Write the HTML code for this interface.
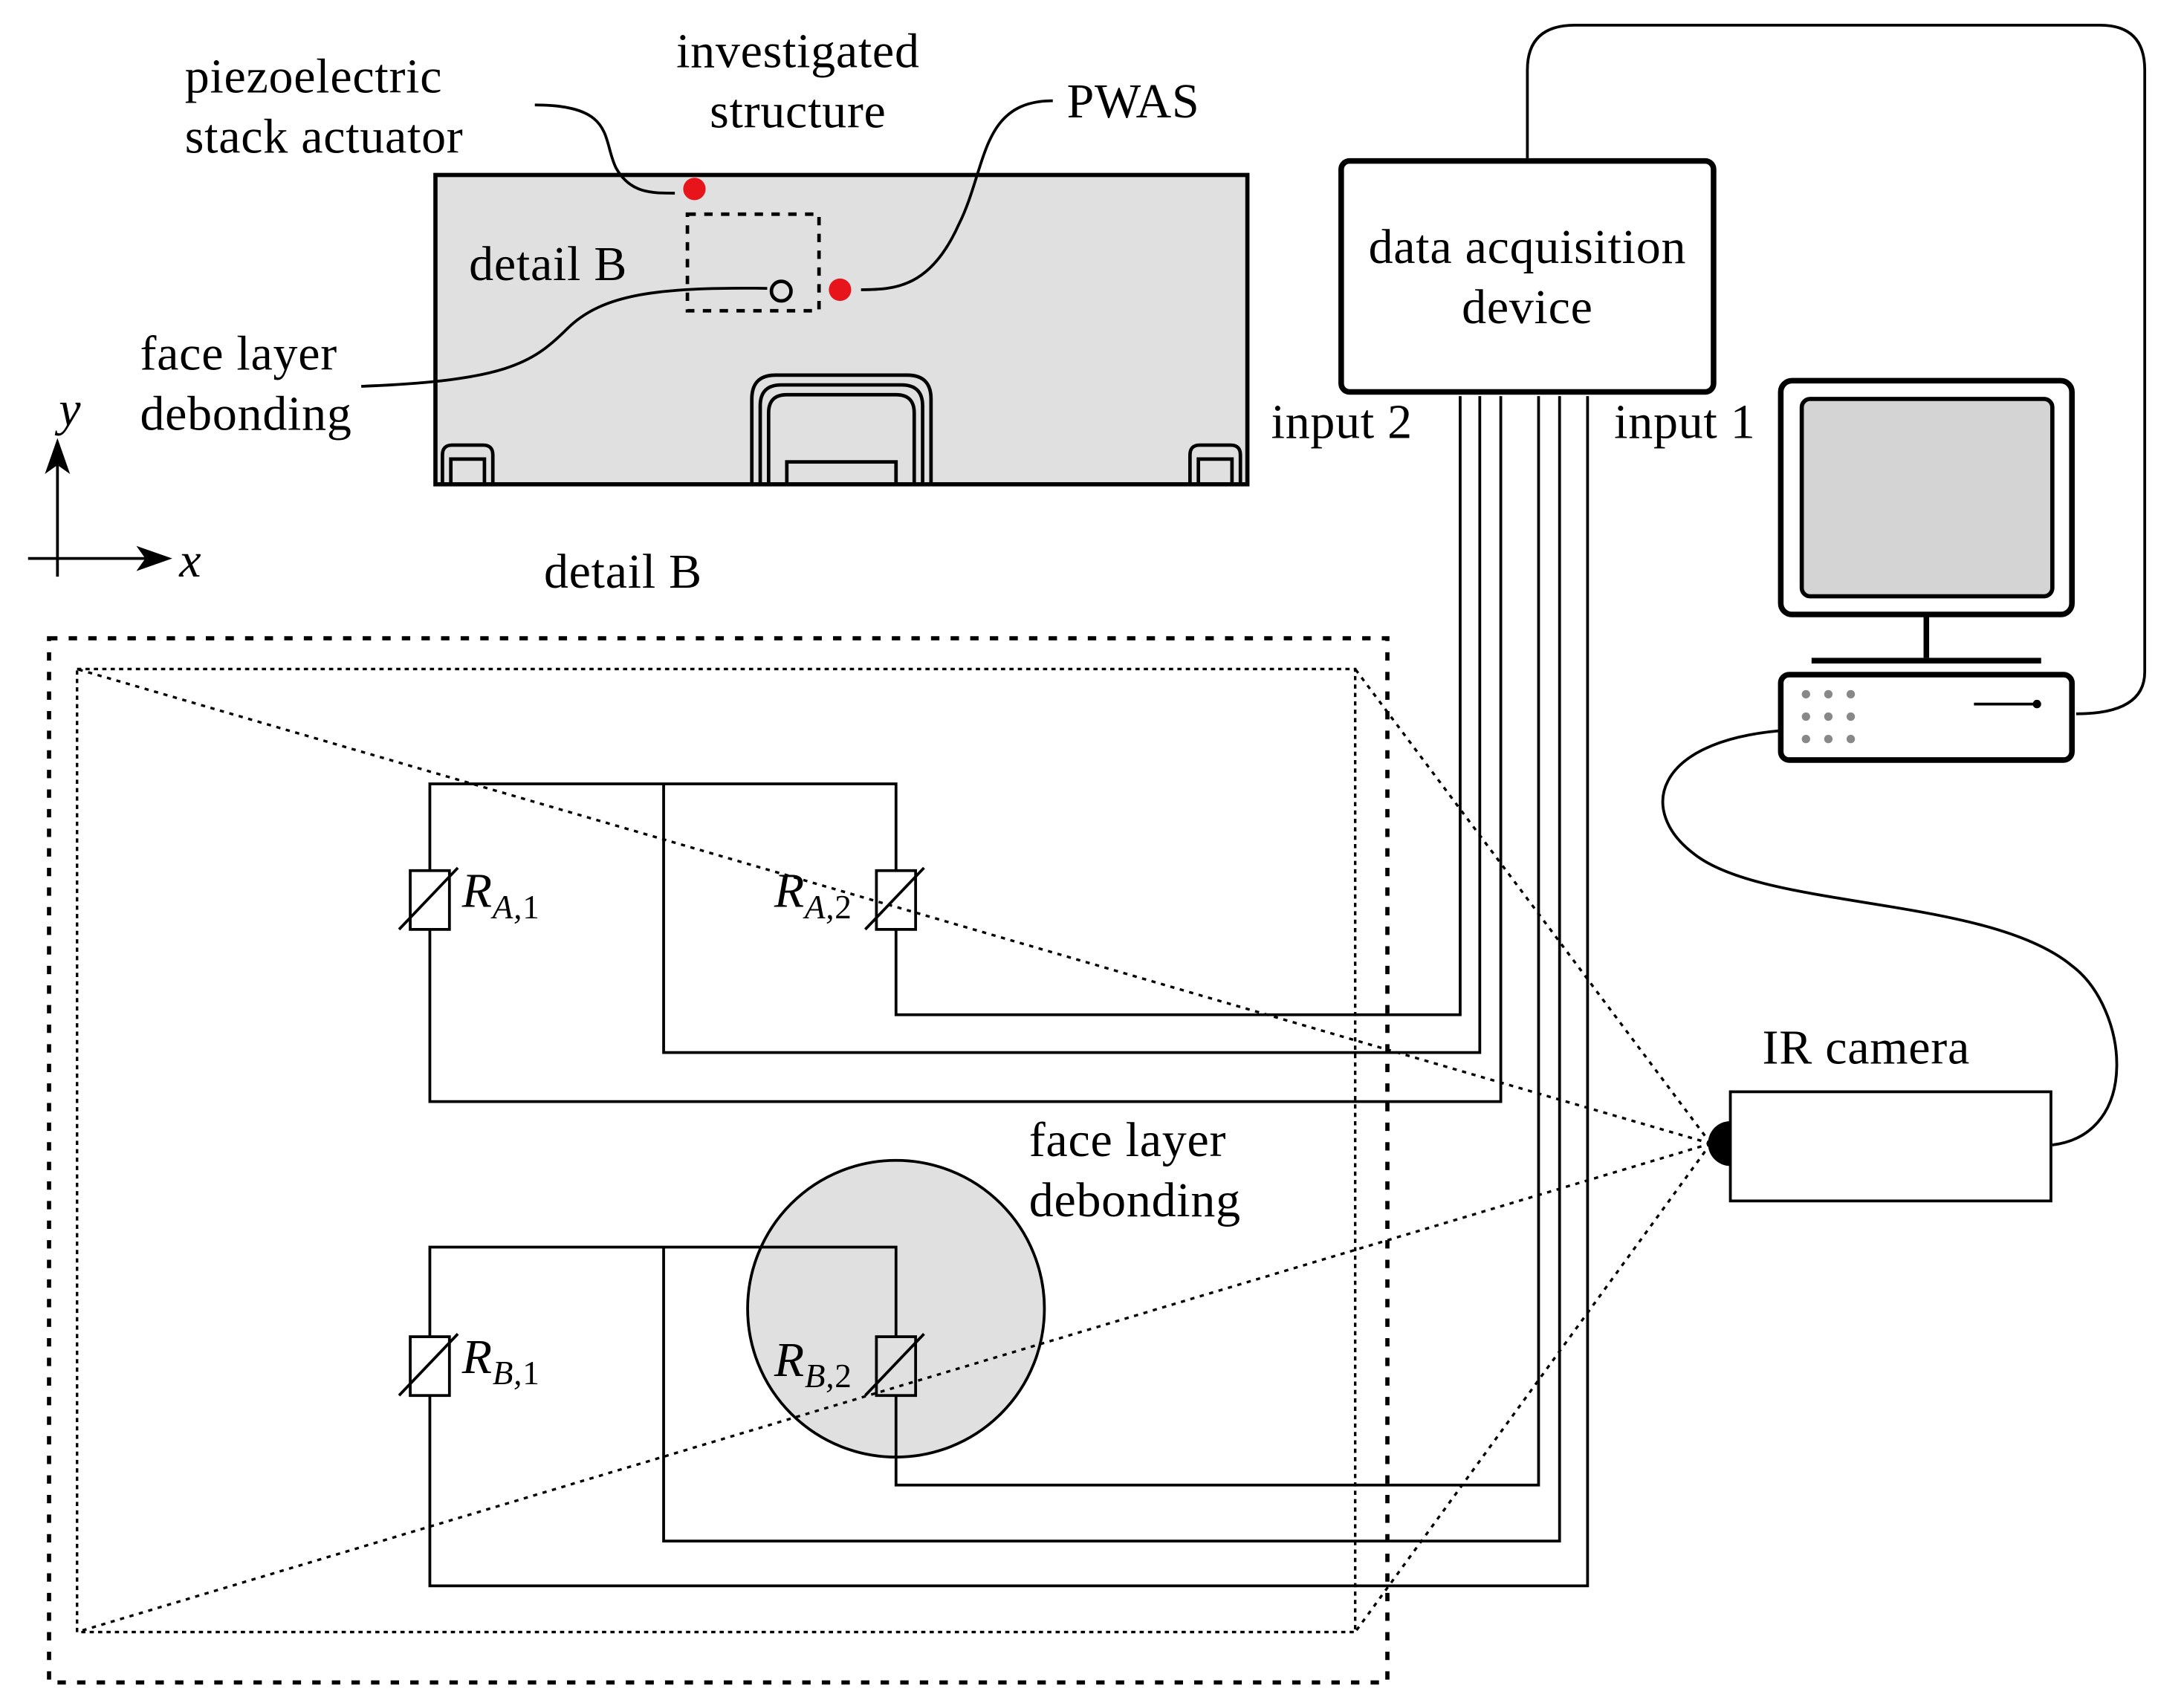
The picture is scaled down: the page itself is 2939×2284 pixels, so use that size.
<!DOCTYPE html>
<html><head><meta charset="utf-8"><style>html,body{margin:0;padding:0;background:#fff}svg{display:block}</style></head><body>
<svg width="2939" height="2284" viewBox="0 0 1560 1212.4" xmlns="http://www.w3.org/2000/svg" font-family="Liberation Serif, serif" font-size="35" letter-spacing="0.4">
<rect width="1560" height="1213" fill="#fff"/>
<rect x="311" y="125" width="580" height="221" fill="#e0e0e0" stroke="#000" stroke-width="3"/>
<rect x="491" y="153" width="94" height="69" fill="none" stroke="#000" stroke-width="2.5" stroke-dasharray="6,6"/>
<circle cx="496" cy="135" r="8" fill="#e8141c"/>
<circle cx="600" cy="207" r="8" fill="#e8141c"/>
<circle cx="558" cy="208" r="7" fill="none" stroke="#000" stroke-width="2.5"/>
<g fill="none" stroke="#000" stroke-width="2.5">
<path d="M537,346 V285 Q537,268 554,268 H648 Q665,268 665,285 V346"/>
<path d="M543,346 V290 Q543,275 558,275 H644 Q659,275 659,290 V346"/>
<path d="M549,346 V295 Q549,282 562,282 H640 Q653,282 653,295 V346"/>
<rect x="562" y="330" width="78" height="16"/>
<path d="M316,346 V325 Q316,318 323,318 H345 Q352,318 352,325 V346 M322,346 V328 H346 V346"/>
<path d="M850,346 V325 Q850,318 857,318 H879 Q886,318 886,325 V346 M856,346 V328 H880 V346"/>
<path d="M382,75 C440,75 430,100 440,120 C450,138 465,138 482,138" stroke-width="2"/>
<path d="M752,72 C700,72 705,120 685,160 C665,205 640,207 615,207" stroke-width="2"/>
<path d="M258,276 C360,272 380,260 405,235 C430,210 470,205 548,206" stroke-width="2"/>
</g>
<text x="132" y="66">piezoelectric</text>
<text x="132" y="109">stack actuator</text>
<text x="570" y="48" text-anchor="middle">investigated</text>
<text x="570" y="91" text-anchor="middle">structure</text>
<text x="762" y="84">PWAS</text>
<text x="335" y="200">detail B</text>
<text x="100" y="264">face layer</text>
<text x="100" y="307">debonding</text>
<g stroke="#000" stroke-width="2" fill="#000">
<line x1="41" y1="412" x2="41" y2="330"/><path d="M41,316 L34,336 L41,331 L48,336Z"/>
<line x1="20" y1="399" x2="106" y2="399"/><path d="M120,399 L100,392 L105,399 L100,406Z"/>
</g>
<text x="42" y="304" font-style="italic">y</text>
<text x="128" y="412" font-style="italic">x</text>
<text x="445" y="420" text-anchor="middle">detail B</text>
<circle cx="640" cy="935" r="106" fill="#e0e0e0" stroke="#000" stroke-width="2"/>
<rect x="35" y="456" width="956" height="746" fill="none" stroke="#000" stroke-width="3" stroke-dasharray="6,8"/>
<rect x="55" y="478" width="913" height="688" fill="none" stroke="#000" stroke-width="1.8" stroke-dasharray="3,3"/>
<g stroke="#000" stroke-width="1.8" stroke-dasharray="3,4">
<line x1="1222" y1="817" x2="55" y2="478"/>
<line x1="1222" y1="817" x2="968" y2="478"/>
<line x1="1222" y1="817" x2="55" y2="1166"/>
<line x1="1222" y1="817" x2="968" y2="1166"/>
</g>
<g fill="none" stroke="#000" stroke-width="2">
<path d="M307,622 V560 H640 V622 M474,560 V752 H1057 V283 M307,664 V787 H1072 V283 M640,664 V725 H1043 V283"/>
<rect x="293" y="622" width="28" height="42"/><line x1="285" y1="664" x2="327" y2="620"/>
<rect x="626" y="622" width="28" height="42"/><line x1="618" y1="664" x2="660" y2="620"/>
<path d="M307,955 V891 H640 V955 M474,891 V1101 H1114 V283 M307,997 V1133 H1134 V283 M640,997 V1061 H1099 V283"/>
<rect x="293" y="955" width="28" height="42"/><line x1="285" y1="997" x2="327" y2="953"/>
<rect x="626" y="955" width="28" height="42"/><line x1="618" y1="997" x2="660" y2="953"/>
</g>
<text x="330" y="648" font-style="italic">R<tspan font-size="24" dy="8">A,<tspan font-style="normal">1</tspan></tspan></text>
<text x="553" y="648" font-style="italic">R<tspan font-size="24" dy="8">A,<tspan font-style="normal">2</tspan></tspan></text>
<text x="330" y="981" font-style="italic">R<tspan font-size="24" dy="8">B,<tspan font-style="normal">1</tspan></tspan></text>
<text x="553" y="983" font-style="italic">R<tspan font-size="24" dy="8">B,<tspan font-style="normal">2</tspan></tspan></text>
<text x="735" y="826">face layer</text>
<text x="735" y="869">debonding</text>
<rect x="958" y="115" width="266" height="165" rx="6" fill="#fff" stroke="#000" stroke-width="4"/>
<text x="1091" y="188" text-anchor="middle">data acquisition</text>
<text x="1091" y="231" text-anchor="middle">device</text>
<text x="908" y="313">input 2</text>
<text x="1153" y="313">input 1</text>
<g fill="none" stroke="#000" stroke-width="2">
<path d="M1091,113 V50 Q1091,18 1125,18 H1500 Q1532,18 1532,50 V480 Q1532,510 1483,510"/>
<path d="M1272,522 C1180,530 1170,580 1210,610 C1260,650 1420,640 1480,690 C1520,720 1530,810 1466,818"/>
</g>
<rect x="1272" y="272" width="208" height="167" rx="8" fill="#fff" stroke="#000" stroke-width="4"/>
<rect x="1287" y="285" width="179" height="141" rx="6" fill="#d4d4d4" stroke="#000" stroke-width="3"/>
<line x1="1376" y1="439" x2="1376" y2="470" stroke="#000" stroke-width="4"/>
<line x1="1294" y1="472" x2="1458" y2="472" stroke="#000" stroke-width="4"/>
<rect x="1272" y="482" width="208" height="61" rx="6" fill="#fff" stroke="#000" stroke-width="4"/>
<g fill="#888"><circle cx="1290" cy="496" r="3"/><circle cx="1306" cy="496" r="3"/><circle cx="1322" cy="496" r="3"/><circle cx="1290" cy="512" r="3"/><circle cx="1306" cy="512" r="3"/><circle cx="1322" cy="512" r="3"/><circle cx="1290" cy="528" r="3"/><circle cx="1306" cy="528" r="3"/><circle cx="1322" cy="528" r="3"/></g>
<line x1="1410" y1="503" x2="1455" y2="503" stroke="#000" stroke-width="2"/><circle cx="1455" cy="503" r="3"/>
<rect x="1236" y="780" width="229" height="78" fill="#fff" stroke="#000" stroke-width="2"/>
<path d="M1236,801 A16,16 0 0,0 1236,833 Z" fill="#000"/>
<text x="1333" y="760" text-anchor="middle">IR camera</text>
</svg>
</body></html>
